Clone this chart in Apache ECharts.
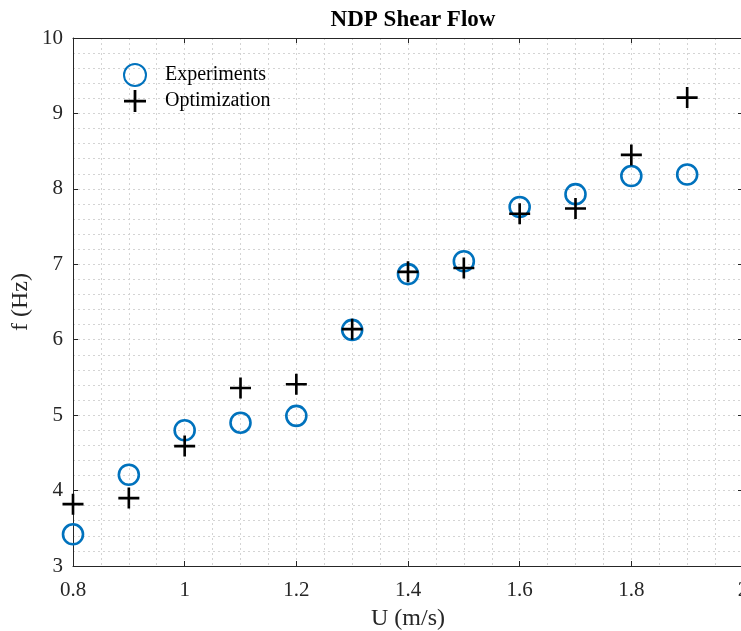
<!DOCTYPE html>
<html><head><meta charset="utf-8">
<script src="https://cdn.jsdelivr.net/npm/echarts@6/dist/echarts.min.js"></script>
<style>html,body{margin:0;padding:0;background:#fff}#c{width:741px;height:631px}</style>
</head><body><div id="c"></div>
<script>
var uValues = [0.8, 0.9, 1.0, 1.1, 1.2, 1.3, 1.4, 1.5, 1.6, 1.7, 1.8, 1.9];
var experiments = [3.42, 4.21, 4.80, 4.90, 4.99, 6.13, 6.87, 7.04, 7.76, 7.93, 8.17, 8.19];
var optimization = [3.82, 3.90, 4.59, 5.36, 5.41, 6.14, 6.90, 6.95, 7.67, 7.74, 8.45, 9.21];

function pairs(xs, ys){ return xs.map(function(x,i){ return [x, ys[i]]; }); }

var FONT = '"Liberation Serif","Times New Roman",serif';
var axisCol = '#262626';
var gridLine = {show:true, lineStyle:{color:'#d4d4d4', type:[2,3], width:1}};
var plusPath = 'path://M7,0h2v7h7v2h-7v7h-2v-7h-7v-2h7z';

var chart = echarts.init(document.getElementById('c'), null, {renderer:'canvas'});
chart.setOption({
  animation:false,
  backgroundColor:'#fff',
  title:{text:'NDP Shear Flow', left:408, textAlign:'center', top:4,
    textStyle:{fontFamily:FONT, fontWeight:'bold', fontSize:23, color:'#000'}},
  grid:{left:73, top:38, right:-2, bottom:65, containLabel:false, outerBoundsMode:'none'},
  legend:{orient:'vertical', left:118, top:58, itemGap:3, itemWidth:22, itemHeight:22,
    textStyle:{fontFamily:FONT, fontSize:20, color:'#000', padding:[0,0,0,14]},
    data:['Experiments','Optimization']},
  xAxis:[{
    type:'value', min:0.8, max:2.0, interval:0.2,
    name:'U (m/s)', nameLocation:'middle', nameGap:41, nameMoveOverlap:false,
    nameTextStyle:{fontFamily:FONT, fontSize:24, color:axisCol},
    axisLine:{show:true, onZero:false, lineStyle:{color:axisCol, width:1}},
    axisTick:{show:true, inside:true, length:5, lineStyle:{color:axisCol}},
    axisLabel:{fontFamily:FONT, fontSize:21, color:axisCol, margin:14,
      formatter:function(v){ return String(+v.toFixed(1)); }},
    splitLine:gridLine,
    minorTick:{show:false, splitNumber:4},
    minorSplitLine:gridLine
  },{
    type:'value', position:'top', min:0.8, max:2.0, interval:0.2,
    axisLine:{show:true, onZero:false, lineStyle:{color:axisCol, width:1}},
    axisTick:{show:true, inside:true, length:5, lineStyle:{color:axisCol}},
    axisLabel:{show:false}, splitLine:{show:false}
  }],
  yAxis:[{
    type:'value', min:3, max:10, interval:1,
    name:'f (Hz)', nameLocation:'middle', nameGap:40, nameRotate:90, nameMoveOverlap:false,
    nameTextStyle:{fontFamily:FONT, fontSize:24, color:axisCol},
    axisLine:{show:true, onZero:false, lineStyle:{color:axisCol, width:1}},
    axisTick:{show:true, inside:true, length:5, lineStyle:{color:axisCol}},
    axisLabel:{fontFamily:FONT, fontSize:21, color:axisCol, margin:10},
    splitLine:gridLine,
    minorTick:{show:false, splitNumber:5},
    minorSplitLine:gridLine
  },{
    type:'value', position:'right', min:3, max:10, interval:1,
    axisLine:{show:true, onZero:false, lineStyle:{color:axisCol, width:1}},
    axisTick:{show:true, inside:true, length:5, lineStyle:{color:axisCol}},
    axisLabel:{show:false}, splitLine:{show:false}
  }],
  series:[{
    name:'Experiments', type:'scatter', data:pairs(uValues, experiments),
    symbol:'circle', symbolSize:20,
    itemStyle:{color:'rgba(0,0,0,0)', borderColor:'#0072BD', borderWidth:2.6, opacity:1}
  },{
    name:'Optimization', type:'scatter', data:pairs(uValues, optimization),
    symbol:plusPath, symbolSize:21,
    itemStyle:{color:'#000', opacity:1}
  }]
});
</script></body></html>
